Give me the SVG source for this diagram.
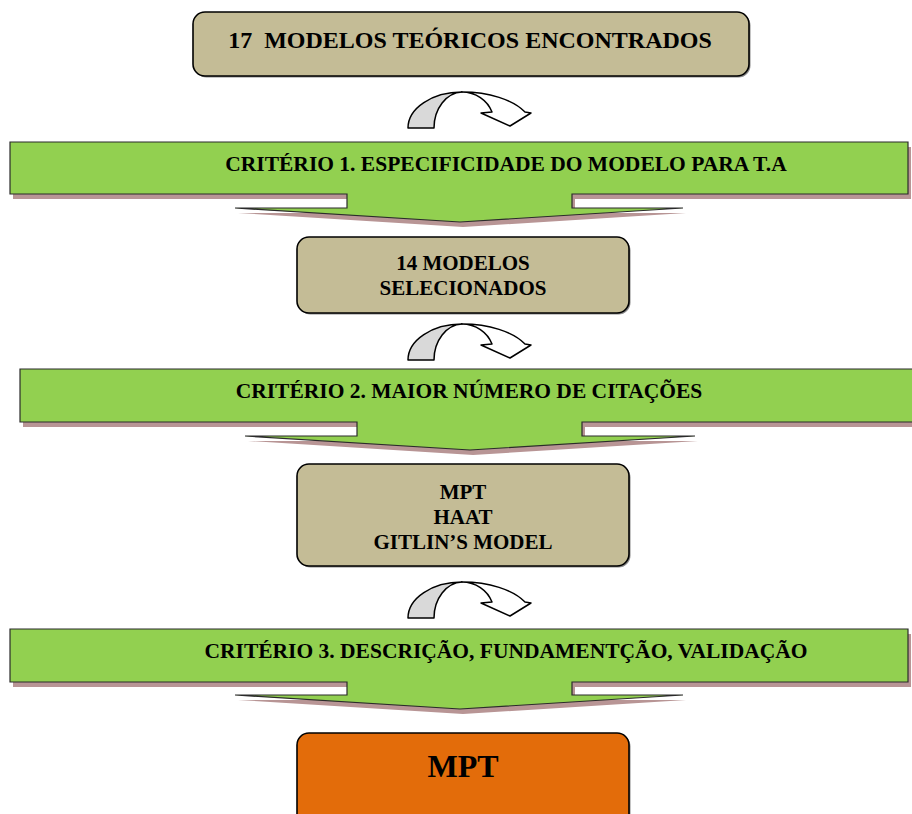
<svg xmlns="http://www.w3.org/2000/svg" width="912" height="814" viewBox="0 0 912 814">
<style>
.box{fill:#c4bc96;stroke:#000;stroke-width:1.6}
.fin{fill:#e36c0a;stroke:#000;stroke-width:1.6}
.bshadow{fill:#8a8a8a}
.callout{fill:#92d050;stroke:#2b2b2b;stroke-width:1.2}
.cshadow{fill:#b89595}
.t{font-family:"Liberation Serif","Times New Roman",serif;font-weight:bold;fill:#000;text-anchor:middle;white-space:pre}
.back{fill:#d9d9d9;stroke:#000;stroke-width:1.5;stroke-linejoin:round}
.front{fill:#fff;stroke:#000;stroke-width:1.5;stroke-linejoin:round}
</style>
<defs>
<g id="uturn">
<path class="back" d="M408,128 A54,36 0 0 1 462,92 A29,36 0 0 0 434,128 Z"/>
<path class="front" d="M462,92 A70,36 0 0 1 525,112 L531,113 L510,126 L481,113 L492,112 A32,30 0 0 0 462,92 Z"/>
</g>
</defs>
<rect width="912" height="814" fill="#fff"/>

<g id="node-17-modelos">
<rect class="bshadow" x="194.5" y="13.5" width="556" height="64" rx="12"/>
<rect class="box" x="193" y="12" width="556" height="64" rx="12"/>
<text class="t" x="470" y="48" font-size="24" xml:space="preserve">17  MODELOS TEÓRICOS ENCONTRADOS</text>
</g>

<g id="criterio-1">
<path class="cshadow" transform="translate(3,5)" d="M10,142 H908 V194 H572 V208 H683 L460,222 L235,208 H347 V194 H10 Z"/>
<path class="callout" d="M10,142 H908 V194 H572 V208 H683 L460,222 L235,208 H347 V194 H10 Z"/>
<text class="t" x="506" y="171" font-size="21.5">CRITÉRIO 1. ESPECIFICIDADE DO MODELO PARA T.A</text>
</g>

<g id="node-14-modelos">
<rect class="bshadow" x="298.5" y="238.5" width="332" height="76" rx="12"/>
<rect class="box" x="297" y="237" width="332" height="76" rx="12"/>
<text class="t" x="463" y="270" font-size="21">14 MODELOS</text>
<text class="t" x="463" y="295" font-size="21">SELECIONADOS</text>
</g>

<g id="criterio-2">
<path class="cshadow" transform="translate(3,5)" d="M20,369 H920 V422 H582 V436 H695 L470,450 L245,436 H357 V422 H20 Z"/>
<path class="callout" d="M20,369 H920 V422 H582 V436 H695 L470,450 L245,436 H357 V422 H20 Z"/>
<text class="t" x="469" y="398" font-size="21.5">CRITÉRIO 2. MAIOR NÚMERO DE CITAÇÕES</text>
</g>

<g id="node-3-modelos">
<rect class="bshadow" x="298.5" y="465.5" width="332" height="102" rx="12"/>
<rect class="box" x="297" y="464" width="332" height="102" rx="12"/>
<text class="t" x="463" y="499" font-size="21">MPT</text>
<text class="t" x="463" y="524" font-size="21">HAAT</text>
<text class="t" x="463" y="549" font-size="21">GITLIN’S MODEL</text>
</g>

<g id="criterio-3">
<path class="cshadow" transform="translate(3,5)" d="M10,629 H908 V682 H572 V695 H683 L460,709 L235,695 H347 V682 H10 Z"/>
<path class="callout" d="M10,629 H908 V682 H572 V695 H683 L460,709 L235,695 H347 V682 H10 Z"/>
<text class="t" x="506" y="658" font-size="21.5">CRITÉRIO 3. DESCRIÇÃO, FUNDAMENTÇÃO, VALIDAÇÃO</text>
</g>

<g id="node-mpt">
<rect class="bshadow" x="298.5" y="734.5" width="332" height="100" rx="12"/>
<rect class="fin" x="297" y="733" width="332" height="100" rx="12"/>
<text class="t" x="463" y="777" font-size="32">MPT</text>
</g>

<g id="connectors">
<use href="#uturn"/>
<use href="#uturn" transform="translate(0,232)"/>
<use href="#uturn" transform="translate(0,490)"/>
</g>
</svg>
